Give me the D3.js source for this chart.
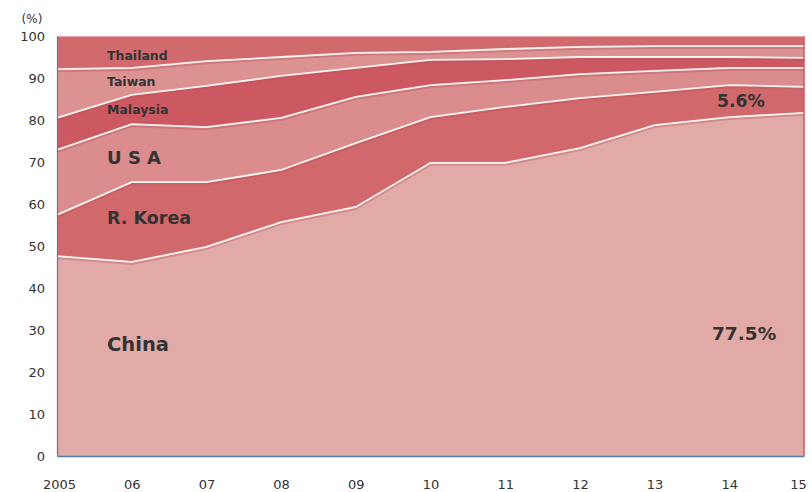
<!DOCTYPE html>
<html><head><meta charset="utf-8">
<script src="https://cdn.jsdelivr.net/npm/d3@7"></script>
<style>body{margin:0;background:#fff}svg{display:block}text{font-family:"DejaVu Sans",Verdana,sans-serif;fill:#333}</style>
</head><body>
<svg id="c" width="812" height="492"></svg>
<script>
const years = ["2005","06","07","08","09","10","11","12","13","14","15"];
const seriesNames = ["China","R. Korea","U S A","Malaysia","Taiwan","Thailand"];
const china    = [47.6, 46.2, 49.8, 55.7, 59.3, 69.8, 69.8, 73.3, 78.8, 80.7, 81.7];
const korea    = [ 9.8, 19.0, 15.4, 12.4, 15.2, 10.9, 13.3, 11.9,  7.9,  7.6,  6.2];
const usa      = [15.5, 13.8, 13.1, 12.4, 11.0,  7.6,  6.4,  5.7,  5.0,  4.1,  4.5];
const malaysia = [ 7.6,  7.0,  9.8, 10.0,  6.9,  6.0,  5.0,  4.1,  3.3,  2.6,  2.4];
const taiwan   = [11.6,  6.4,  5.9,  4.5,  3.6,  1.9,  2.4,  2.4,  2.6,  2.6,  2.8];
const thailand = [ 7.9,  7.6,  6.0,  5.0,  4.0,  3.8,  3.1,  2.6,  2.4,  2.4,  2.4];
const yTicks = [0,10,20,30,40,50,60,70,80,90,100];
const colors = ["#e2aaa7","#d1686b","#da8d8c","#cc5961","#dc9291","#d16a6d"];

const rows = years.map((y,i)=>({year:y,"China":china[i],"R. Korea":korea[i],"U S A":usa[i],"Malaysia":malaysia[i],"Taiwan":taiwan[i],"Thailand":thailand[i]}));
const stack = d3.stack().keys(seriesNames)(rows);

const svg = d3.select("#c");
const x = d3.scalePoint().domain(years).range([57,804]);
const y = d3.scaleLinear().domain([0,100]).range([456,36]);

const defs = svg.append("defs");
defs.append("filter").attr("id","blur").append("feGaussianBlur").attr("stdDeviation",0.6);

const area = d3.area().x(d=>x(d.data.year)).y0(d=>y(d[0])).y1(d=>y(d[1]));
const topLine = d3.line().x(d=>x(d.data.year)).y(d=>y(d[1]));

svg.append("g").selectAll("path").data(stack).join("path")
  .attr("d",area).attr("fill",(d,i)=>colors[i]);

// shading just under each boundary
svg.append("g").selectAll("path").data(stack.slice(0,5)).join("path")
  .attr("d",topLine).attr("fill","none").attr("stroke","#b8505a").attr("stroke-opacity",0.35)
  .attr("stroke-width",2).attr("transform","translate(0,2)").attr("filter","url(#blur)");
svg.append("g").selectAll("path").data(stack.slice(0,5)).join("path")
  .attr("d",topLine).attr("fill","none").attr("stroke","#fff").attr("stroke-opacity",0.9)
  .attr("stroke-width",1.8).attr("filter","url(#blur)");

// frame lines
svg.append("line").attr("x1",804).attr("x2",804).attr("y1",36).attr("y2",456).attr("stroke","#d9545c").attr("stroke-width",1.5);
svg.append("line").attr("x1",57).attr("x2",804).attr("y1",36.5).attr("y2",36.5).attr("stroke","#e7a3a5").attr("stroke-width",1);

// axes
const yAxis = svg.append("g").attr("transform","translate(57,0)")
  .call(d3.axisLeft(y).tickValues(yTicks).tickSize(0).tickPadding(12));
yAxis.select(".domain").attr("stroke","#4f7fae").attr("stroke-width",1.2);
yAxis.selectAll("text").attr("font-size",13).attr("fill","#333").attr("font-family","DejaVu Sans");

const xAxis = svg.append("g").attr("transform","translate(0,456)")
  .call(d3.axisBottom(x).tickSize(0).tickPadding(24));
xAxis.select(".domain").attr("stroke","#4f7fae").attr("stroke-width",1.5);
xAxis.selectAll("text").attr("font-size",13).attr("fill","#333").attr("font-family","DejaVu Sans")
  .attr("dx",(d,i)=> i===0?2:(i===years.length-1?-6:0));

svg.append("text").attr("x",32).attr("y",23).attr("text-anchor","middle").attr("font-size",12).text("(%)");

// labels
const labels = [
  {t:"Thailand",x:107,y:55,s:12.5},
  {t:"Taiwan",x:107,y:81,s:12.5},
  {t:"Malaysia",x:107,y:109,s:12.5},
  {t:"U S A",x:107,y:158,s:18},
  {t:"R. Korea",x:107,y:218,s:17.5},
  {t:"China",x:107,y:344,s:19.5},
  {t:"77.5%",x:712,y:333,s:18.5},
  {t:"5.6%",x:717,y:101,s:17.3}
];
svg.append("g").selectAll("text").data(labels).join("text")
  .attr("x",d=>d.x).attr("y",d=>d.y).attr("dy","0.36em").attr("font-weight","bold")
  .attr("font-size",d=>d.s).text(d=>d.t);
</script>
</body></html>
